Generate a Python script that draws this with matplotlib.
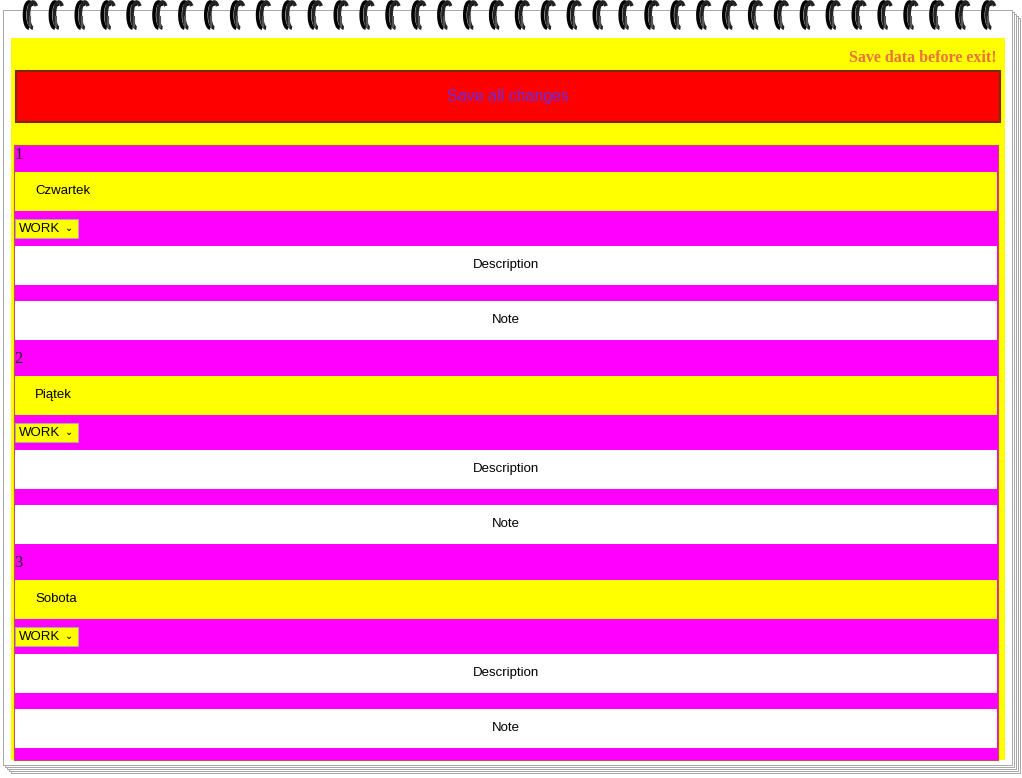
import matplotlib
matplotlib.use("Agg")
import matplotlib.pyplot as plt
from matplotlib.patches import Rectangle, Arc

numbers = ["1", "2", "3"]
days = ["Czwartek", "Piątek", "Sobota"]
types = ["WORK", "WORK", "WORK"]
desc_label = "Description"
note_label = "Note"
button_label = "Save all changes"
warning = "Save data before exit!"
n_rings = 38

fig = plt.figure(figsize=(10.22, 7.78), dpi=100)
ax = fig.add_axes([0, 0, 1, 1])
ax.set_xlim(0, 1022); ax.set_ylim(778, 0); ax.axis("off")

def rect(x0, y0, x1, y1, fc, ec="none", lw=0, z=1):
    ax.add_patch(Rectangle((x0, y0), x1 - x0, y1 - y0, facecolor=fc, edgecolor=ec, lw=lw, zorder=z))

# page shadows
for k in range(8, -1, -2):
    rect(3 + k, 10 + k, 1012 + k, 765 + k, "white", "#999999", 0.6, z=1)
rect(11, 38, 1005, 760, "#ffff00", z=2)
ax.text(997, 58, warning, ha="right", va="center", color="#e8743b", fontsize=11.5,
        fontweight="bold", family="Liberation Serif", zorder=5)
rect(16, 71, 1000, 122, "#ff0000", "#7a2a10", 1.5, z=3)
ax.text(508, 96, button_label, ha="center", va="center", color="#6a2ae0", fontsize=11.5,
        family="Liberation Sans", zorder=5)

rect(14, 145, 998, 760, "#ff00ff", "#c05050", 0.8, z=3)
for i, (n, d, t) in enumerate(zip(numbers, days, types)):
    y = 145 + 204 * i
    ax.text(14, y + 10, n, ha="left", va="center", fontsize=12, family="Liberation Serif", color="#222", zorder=5)
    rect(15, y + 27, 997, y + 66, "#ffff00", z=4)
    ax.text(35, y + 46, d, ha="left", va="center", fontsize=9.5, family="Liberation Sans", zorder=5)
    rect(15, y + 74, 78, y + 93, "#ffff00", "#aaaaaa", 0.6, z=4)
    ax.text(19, y + 83.5, t, ha="left", va="center", fontsize=9.5, family="Liberation Sans", zorder=5)
    ax.text(69, y + 83, "\u2304", ha="center", va="center", fontsize=7, zorder=5)
    rect(15, y + 101, 997, y + 140, "white", z=4)
    ax.text(506, y + 120, desc_label, ha="center", va="center", fontsize=9.5, family="Liberation Sans", zorder=5)
    rect(15, y + 156, 997, y + 195, "white", z=4)
    ax.text(506, y + 175, note_label, ha="center", va="center", fontsize=9.5, family="Liberation Sans", zorder=5)

# spiral rings
for i in range(n_rings):
    x = 29 + 25.9 * i
    for dx, col in ((0, "black"), (4, "#222222")):
        ax.add_patch(Arc((x + dx, 15), 9, 26, theta1=90, theta2=290, lw=2.6, color=col, zorder=6))
    ax.plot([x + 1, x + 1], [17, 27], color="#555555", lw=1.5, zorder=6)

fig.savefig("out.png", dpi=100)
